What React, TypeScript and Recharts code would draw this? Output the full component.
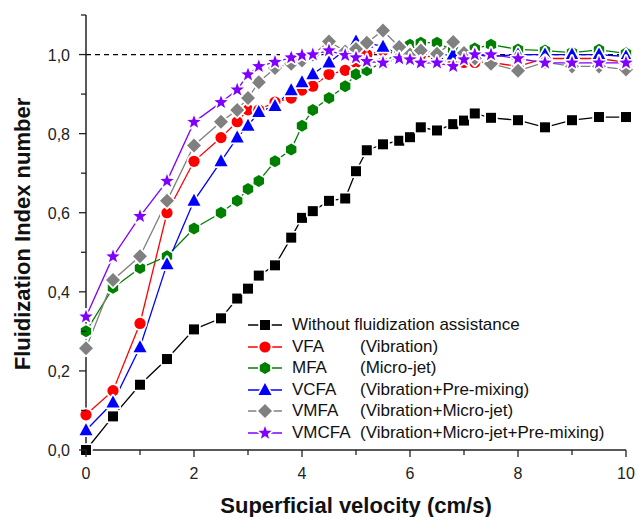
import React from 'react';
import {
  Line,
  LineChart,
  ReferenceLine,
  XAxis,
  YAxis,
} from 'recharts';

const FONT = '"Liberation Sans", Arial, sans-serif';

// superficial velocity (cm/s)
const velocity = [
  0, 0.5, 1, 1.5, 2, 2.5, 2.8, 3, 3.2, 3.5, 3.8, 4, 4.2, 4.5, 4.8, 5, 5.2, 5.5,
  5.8, 6, 6.2, 6.5, 6.8, 7, 7.2, 7.5, 8, 8.5, 9, 9.5, 10,
];

const withoutAssist = [
  0, 0.085, 0.165, 0.23, 0.305, 0.333, 0.383, 0.408, 0.441, 0.467, 0.537, 0.587,
  0.604, 0.63, 0.636, 0.705, 0.758, 0.773, 0.782, 0.791, 0.816, 0.808, 0.824,
  0.833, 0.851, 0.84, 0.834, 0.816, 0.834, 0.842, 0.842,
];
const vfa = [
  0.089, 0.15, 0.32, 0.6, 0.73, 0.79, 0.83, 0.86, 0.86, 0.88, 0.89, 0.91, 0.92,
  0.95, 0.96, 0.98, 1.0, 1.01, 1.0, 1.0, 1.0, 0.99, 0.98, 0.98, 0.98, 0.98, 0.97,
  0.99, 0.99, 0.99, 0.98,
];
const mfa = [
  0.3, 0.41, 0.46, 0.49, 0.56, 0.6, 0.63, 0.66, 0.68, 0.73, 0.76, 0.82, 0.86,
  0.89, 0.92, 0.95, 0.96, 0.98, 1.005, 1.025, 1.03, 1.03, 1.01, 1.005, 1.015,
  1.025, 1.013, 1.01, 1.005, 1.012, 1.003,
];
const vcfa = [
  0.05, 0.12, 0.26, 0.47, 0.63, 0.73, 0.79, 0.82, 0.855, 0.87, 0.91, 0.93, 0.95,
  0.98, null, 1.033, 1.03, 1.02, 1.0, 1.005, 1.013, 1.0, 1.0, 1.0, 1.0, 0.995,
  1.0, 1.0, 1.0, 1.0, 0.995,
];
const vmfa = [
  0.257, 0.43, 0.49, 0.63, 0.77, 0.83, 0.86, 0.89, 0.93, 0.966, 0.977, 0.985,
  1.0, 1.033, 1.008, 1.014, 1.03, 1.061, 1.019, 1.0, 1.01, 1.002, 1.032, 1.004,
  0.99, 0.977, 0.959, 0.981, 0.97, 0.97, 0.962,
];
const vmcfa = [
  0.337, 0.489, 0.591, 0.68, 0.829, 0.879, 0.911, 0.949, 0.97, 0.981, 0.992,
  0.998, 1.0, 1.01, 0.998, 0.992, 0.983, 0.979, 0.99, 0.987, 0.979, 0.979, 0.97,
  0.987, 1.0, 1.0, 0.99, 0.979, 0.979, 0.979, 0.979,
];

const xTicks = [0, 1, 2, 3, 4, 5, 6, 7, 8, 9, 10];
const yTicks = [0, 0.1, 0.2, 0.3, 0.4, 0.5, 0.6, 0.7, 0.8, 0.9, 1.0, 1.1];

type Shape = 'square' | 'circle' | 'hexagon' | 'triangle' | 'diamond' | 'star';

const series: {
  key: string;
  name: string;
  desc: string;
  color: string;
  shape: Shape;
  values: (number | null)[];
}[] = [
  { key: 'none', name: 'Without fluidization assistance', desc: '', color: '#000000', shape: 'square', values: withoutAssist },
  { key: 'vfa', name: 'VFA', desc: '(Vibration)', color: '#ff0000', shape: 'circle', values: vfa },
  { key: 'mfa', name: 'MFA', desc: '(Micro-jet)', color: '#008000', shape: 'hexagon', values: mfa },
  { key: 'vcfa', name: 'VCFA', desc: '(Vibration+Pre-mixing)', color: '#0000ff', shape: 'triangle', values: vcfa },
  { key: 'vmfa', name: 'VMFA', desc: '(Vibration+Micro-jet)', color: '#808080', shape: 'diamond', values: vmfa },
  { key: 'vmcfa', name: 'VMCFA', desc: '(Vibration+Micro-jet+Pre-mixing)', color: '#7f00ff', shape: 'star', values: vmcfa },
];

const rows = velocity.map((v, i) => {
  const row: Record<string, number | null> = { v };
  series.forEach((s) => {
    row[s.key] = s.values[i];
  });
  return row;
});

// white halo round each symbol gives the Origin-style gap between line and marker
const halo = { stroke: '#fff', strokeWidth: 3.5, paintOrder: 'stroke' as const, strokeLinejoin: 'round' as const };

function Marker({ shape, cx, cy, color }: { shape: Shape; cx: number; cy: number; color: string }) {
  if (shape === 'square') {
    return <rect x={cx - 5} y={cy - 5} width={10} height={10} fill={color} {...halo} />;
  }
  if (shape === 'circle') {
    return <circle cx={cx} cy={cy} r={5.6} fill={color} {...halo} />;
  }
  if (shape === 'hexagon') {
    const r = 6;
    const pts = [0, 1, 2, 3, 4, 5]
      .map((k) => {
        const a = (Math.PI / 3) * k + Math.PI / 6;
        return `${cx + r * Math.cos(a)},${cy + r * Math.sin(a)}`;
      })
      .join(' ');
    return <polygon points={pts} fill={color} {...halo} />;
  }
  if (shape === 'triangle') {
    return (
      <polygon
        points={`${cx},${cy - 7} ${cx + 6.5},${cy + 5} ${cx - 6.5},${cy + 5}`}
        fill={color}
        {...halo}
      />
    );
  }
  if (shape === 'diamond') {
    return (
      <polygon
        points={`${cx},${cy - 7} ${cx + 7},${cy} ${cx},${cy + 7} ${cx - 7},${cy}`}
        fill={color}
        {...halo}
      />
    );
  }
  const pts: string[] = [];
  for (let k = 0; k < 10; k++) {
    const r = k % 2 === 0 ? 7 : 2.9;
    const a = -Math.PI / 2 + (Math.PI / 5) * k;
    pts.push(`${cx + r * Math.cos(a)},${cy + r * Math.sin(a)}`);
  }
  return <polygon points={pts.join(' ')} fill={color} {...halo} />;
}

function XTick({ x, y, payload }: any) {
  const major = payload.value % 2 === 0;
  return (
    <g>
      <line x1={x} x2={x} y1={y} y2={y + (major ? 7 : 5)} stroke="#222" strokeWidth={1.3} />
      {major && (
        <text x={x} y={y + 29} textAnchor="middle" fontSize={16} fill="#222" fontFamily={FONT}>
          {payload.value}
        </text>
      )}
    </g>
  );
}

function YTick({ x, y, payload }: any) {
  const tenth = Math.round(payload.value * 10);
  const major = tenth % 2 === 0;
  return (
    <g>
      <line x1={x} x2={x - (major ? 7 : 5)} y1={y} y2={y} stroke="#222" strokeWidth={1.3} />
      {major && (
        <text x={x - 16} y={y + 6} textAnchor="end" fontSize={16} fill="#222" fontFamily={FONT}>
          {payload.value.toFixed(1).replace('.', ',')}
        </text>
      )}
    </g>
  );
}

function LegendBox() {
  return (
    <div
      style={{
        position: 'absolute',
        left: 248,
        top: 315,
        width: 390,
        fontFamily: FONT,
        fontSize: 17,
        color: '#111',
      }}
    >
      {series.map((s) => (
        <div key={s.key} style={{ position: 'relative', height: 21.6, whiteSpace: 'nowrap' }}>
          <svg width={36} height={20} style={{ position: 'absolute', left: 0, top: 0 }}>
            <line x1={0} x2={34} y1={10} y2={10} stroke={s.color} strokeWidth={1.3} />
            <Marker shape={s.shape} cx={17} cy={10} color={s.color} />
          </svg>
          <span style={{ position: 'absolute', left: 44, top: 0, lineHeight: '20px' }}>{s.name}</span>
          {s.desc && (
            <span style={{ position: 'absolute', left: 112, top: 0, lineHeight: '20px' }}>{s.desc}</span>
          )}
        </div>
      ))}
    </div>
  );
}

export default function App() {
  return (
    <div style={{ position: 'absolute', left: 0, top: 0, width: 638, height: 517, background: '#fff' }}>
      <LineChart
        width={638}
        height={517}
        data={rows}
        margin={{ top: 15, right: 12, left: 0, bottom: 0 }}
      >
        <XAxis
          dataKey="v"
          type="number"
          domain={[0, 10]}
          ticks={xTicks}
          interval={0}
          height={67}
          tickSize={0}
          tickMargin={0}
          tickLine={false}
          axisLine={{ stroke: '#222', strokeWidth: 1.5 }}
          tick={<XTick />}
        />
        <XAxis
          xAxisId="top"
          dataKey="v"
          type="number"
          orientation="top"
          domain={[0, 10]}
          height={0}
          tick={false}
          tickLine={false}
          axisLine={{ stroke: '#222', strokeWidth: 1.5 }}
        />
        <YAxis
          type="number"
          domain={[0, 1.1]}
          ticks={yTicks}
          interval={0}
          width={86}
          tickSize={0}
          tickMargin={0}
          tickLine={false}
          axisLine={{ stroke: '#222', strokeWidth: 1.5 }}
          tick={<YTick />}
        />
        <YAxis
          yAxisId="right"
          orientation="right"
          type="number"
          domain={[0, 1.1]}
          width={0}
          tick={false}
          tickLine={false}
          axisLine={{ stroke: '#222', strokeWidth: 1.5 }}
        />
        <ReferenceLine y={1} stroke="#000" strokeWidth={1.3} strokeDasharray="5 4" />
        {series.map((s) => (
          <Line
            key={s.key}
            dataKey={s.key}
            name={s.name}
            stroke={s.color}
            strokeWidth={1.3}
            connectNulls
            isAnimationActive={false}
            dot={(p: any) =>
              p.cy == null || p.value == null ? (
                <g key={`${s.key}-${p.index}`} />
              ) : (
                <Marker key={`${s.key}-${p.index}`} shape={s.shape} cx={p.cx} cy={p.cy} color={s.color} />
              )
            }
            activeDot={false}
          />
        ))}
        <text
          x={356}
          y={513}
          textAnchor="middle"
          fontSize={22}
          fontWeight="bold"
          fontFamily={FONT}
          fill="#111"
        >
          Superficial velocity (cm/s)
        </text>
        <text
          x={22}
          y={234}
          textAnchor="middle"
          fontSize={22}
          fontWeight="bold"
          fontFamily={FONT}
          fill="#111"
          transform="rotate(-90 22 234)"
          dominantBaseline="central"
        >
          Fluidization Index number
        </text>
      </LineChart>
      <LegendBox />
    </div>
  );
}
